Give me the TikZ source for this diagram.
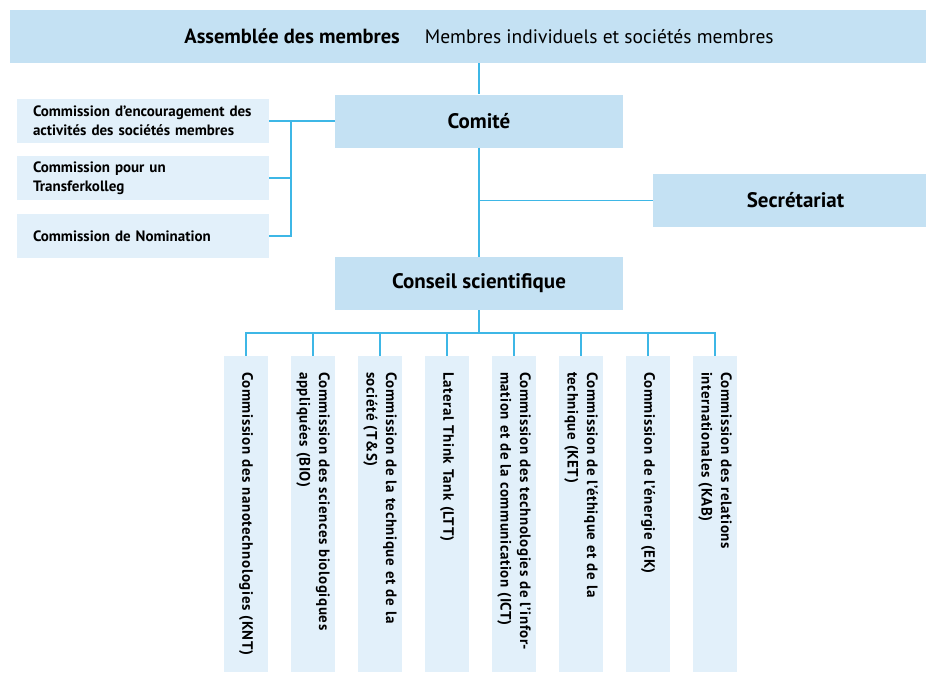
\documentclass[tikz,border=0pt]{standalone}
\usepackage{fontspec}
\setmainfont{PT Sans}
\definecolor{darkbox}{RGB}{196,225,243}
\definecolor{lightbox}{RGB}{226,240,250}
\definecolor{linecol}{RGB}{62,183,230}
\begin{document}
\begin{tikzpicture}[x=1pt,y=-1pt,
  darkbox/.style={fill=darkbox, draw=none, inner sep=0pt, minimum height=53pt,
    font=\fontsize{21}{25}\selectfont\bfseries},
  commbox/.style={fill=lightbox, draw=none, text width=220pt, inner xsep=16pt, inner ysep=0pt,
    minimum height=44pt, align=left, font=\fontsize{15}{18.5}\selectfont\bfseries},
  colbox/.style={fill=lightbox, draw=none, rotate=-90, minimum width=316pt, minimum height=44pt,
    text width=284pt, inner xsep=16pt, inner ysep=0pt, align=left,
    font=\fontsize{15}{19.5}\selectfont\bfseries\addfontfeature{LetterSpace=4}},
  link/.style={draw=linecol, line width=1.5pt}]
\useasboundingbox (0,0) rectangle (926,672);

% top level
\node[darkbox, minimum width=916pt] (asm) at (468,36.5)
  {\hspace*{22pt}\fontsize{20.5}{25}\selectfont Assemblée des membres\hspace{25pt}\fontsize{19.5}{25}\selectfont\mdseries Membres individuels et sociétés membres};
\node[darkbox, minimum width=288pt] (comite) at (479,121) {Comité};
\node[darkbox, minimum width=273pt] (secr) at (789.5,200.5) {\hspace*{12pt}Secrétariat};
\node[darkbox, minimum width=288pt] (conseil) at (479,283.5) {Conseil scientifique};

% left commissions
\node[commbox] (c1) at (143,120.5) {Commission d’encouragement des\\activités des sociétés membres};
\node[commbox] (c2) at (143,178) {Commission pour un\\Transferkolleg};
\node[commbox] (c3) at (143,236) {Commission de Nomination};

% bottom commissions (rotated: anchor "west" is the top edge)
\node[colbox] (k1) at (246,514) {Commission des nanotechnologies (KNT)};
\node[colbox] (k2) at (313,514) {Commission des sciences biologiques\\appliquées (BIO)};
\node[colbox] (k3) at (380,514) {Commission de la technique et de la\\société (T\&S)};
\node[colbox] (k4) at (447,514) {Lateral Think Tank (LTT)};
\node[colbox] (k5) at (514,514) {Commission des technologies de l’infor-\\mation et de la communication (ICT)};
\node[colbox] (k6) at (581,514) {Commission de l’éthique et de la\\technique (KET)};
\node[colbox] (k7) at (648,514) {Commission de l’énergie (EK)};
\node[colbox] (k8) at (715,514) {Commission des relations\\internationales (KAB)};

% connectors
\coordinate (jl) at (291,121);
\coordinate (jb) at (479,333);
\draw[link] (asm.south -| comite.north) -- (comite.north);
\draw[link] (comite.south) -- (conseil.north);
\draw[link] (secr.west) -- (secr.west -| comite.south);
\draw[link] (comite.west) -- (comite.west -| c1.east);
\draw[link] (c1.east |- jl) -- (jl) |- (c3.east);
\draw[link] (jl) |- (c2.east);
\draw[link] (conseil.south) -- (jb);
\draw[link] (k1.west) |- (jb) -| (k8.west);
\foreach \k in {k2,k3,k4,k5,k6,k7}
  \draw[link] (\k.west) -- (\k.west |- jb);
\end{tikzpicture}
\end{document}
